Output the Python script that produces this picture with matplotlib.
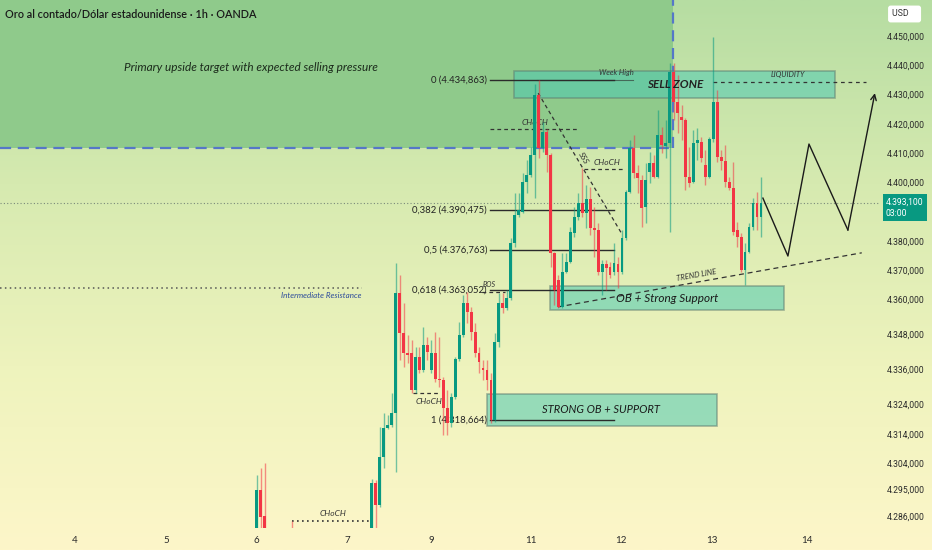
import numpy as np
import matplotlib
matplotlib.use("Agg")
import matplotlib.pyplot as plt
from matplotlib.patches import Rectangle
from matplotlib.colors import LinearSegmentedColormap
import matplotlib.transforms as mtransforms

plt.rcParams['font.family'] = ['Lato', 'DejaVu Sans']
NARROW = ['Roboto', 'Lato', 'DejaVu Sans']

# hourly candles, XAU/USD (bar index, open, high, low, close)
bar_idx = [0, 1, 2, 9] + list(range(29, 128))
opens = [4278, 4294.8, 4286.0, 4280,
         4278, 4297.1, 4289.6, 4306.2, 4315.9, 4317.0, 4321.0, 4362.0, 4348.4, 4341.7,
         4341.5, 4329.0, 4340.4, 4335.8, 4344.4, 4335.8, 4341.7, 4332.9, 4332.4, 4322.7,
         4317.6, 4326.5, 4339.5, 4347.8, 4358.6, 4355.7, 4348.9, 4341.5, 4336.4, 4335.8,
         4332.4, 4318.7, 4345.5, 4358.6, 4356.9, 4360.3, 4379.1, 4388.8, 4390.0, 4400.2,
         4402.5, 4409.3, 4429.9, 4411.6, 4417.3, 4409.3, 4375.9, 4366.6, 4357.5, 4369.4,
         4372.8, 4382.6, 4388.2, 4392.8, 4389.6, 4394.2, 4384.3, 4383.7, 4369.4, 4372.1,
         4370.9, 4369.4, 4372.1, 4369.4, 4380.8, 4396.8, 4411.6, 4403.1, 4400.8, 4391.7,
         4403.6, 4406.5, 4401.9, 4416.2, 4412.4, 4413.3, 4437.8, 4427.6, 4422.4, 4421.3,
         4401.9, 4400.2, 4413.3, 4413.9, 4405.9, 4401.9, 4414.7, 4427.6, 4408.8, 4407.4,
         4400.2, 4397.9, 4383.7, 4381.4, 4370.0, 4376.3, 4384.8, 4392.8, 4388.2]
highs = [4299.9, 4302.3, 4304.1, 4284.3,
         4298.4, 4298.2, 4316.4, 4321.0, 4320.4, 4327.8, 4372.3, 4368.3, 4358.7, 4347.8,
         4346.1, 4343.8, 4343.8, 4350.6, 4347.2, 4346.1, 4348.9, 4347.2, 4333.5, 4329.0,
         4327.8, 4340.4, 4352.3, 4361.5, 4362.6, 4357.5, 4351.8, 4343.8, 4339.2, 4339.2,
         4334.8, 4348.4, 4362.0, 4362.0, 4363.2, 4380.8, 4396.2, 4396.2, 4403.2, 4407.6,
         4412.2, 4433.5, 4434.86, 4420.7, 4418.4, 4409.9, 4376.3, 4368.3, 4375.7, 4375.7,
         4384.8, 4391.7, 4396.2, 4404.8, 4399.1, 4398.5, 4391.7, 4386.0, 4373.4, 4373.4,
         4372.8, 4379.1, 4374.6, 4383.7, 4397.4, 4414.5, 4416.2, 4405.9, 4402.5, 4406.5,
         4410.5, 4409.3, 4424.7, 4419.0, 4421.3, 4440.7, 4440.7, 4436.7, 4426.4, 4421.9,
         4412.2, 4417.9, 4418.5, 4415.6, 4411.1, 4415.6, 4449.8, 4431.6, 4411.1, 4412.8,
         4401.9, 4407.0, 4386.5, 4382.6, 4379.1, 4386.0, 4394.5, 4396.8, 4401.9]
lows = [4274, 4276, 4272, 4272,
        4274, 4278, 4289.0, 4302.3, 4315.5, 4316.5, 4301.0, 4339.2, 4336.9, 4338.1,
        4327.8, 4327.8, 4334.7, 4335.2, 4339.2, 4334.7, 4331.8, 4330.1, 4313.6, 4313.6,
        4316.4, 4326.0, 4339.0, 4347.0, 4351.8, 4346.1, 4340.4, 4334.7, 4332.4, 4329.0,
        4317.6, 4318.1, 4343.8, 4355.3, 4356.3, 4359.7, 4378.0, 4388.2, 4389.5, 4396.3,
        4401.9, 4394.5, 4408.3, 4410.5, 4403.6, 4371.1, 4358.0, 4356.9, 4356.9, 4368.9,
        4372.3, 4381.4, 4387.1, 4388.2, 4384.3, 4382.0, 4374.6, 4368.3, 4361.5, 4363.2,
        4367.2, 4368.3, 4363.9, 4368.8, 4380.3, 4396.2, 4401.4, 4396.2, 4384.8, 4386.0,
        4399.7, 4401.4, 4401.4, 4409.9, 4408.2, 4383.1, 4421.3, 4416.8, 4414.5, 4397.4,
        4398.5, 4399.7, 4407.6, 4407.0, 4399.1, 4401.4, 4413.9, 4407.0, 4404.2, 4398.5,
        4397.4, 4382.0, 4378.0, 4369.4, 4364.9, 4375.7, 4383.7, 4383.7, 4381.4]
closes = [4294.8, 4285.5, 4276, 4276,
          4297.1, 4289.6, 4306.2, 4315.9, 4317.0, 4321.0, 4362.0, 4348.4, 4341.5, 4340.9,
          4329.0, 4340.4, 4335.8, 4344.4, 4342.1, 4341.7, 4332.9, 4332.4, 4322.7, 4317.6,
          4326.5, 4339.5, 4347.8, 4358.6, 4355.7, 4348.9, 4341.5, 4338.6, 4335.8, 4332.4,
          4318.7, 4345.5, 4358.6, 4356.9, 4360.3, 4379.1, 4388.8, 4390.6, 4400.2, 4402.5,
          4409.3, 4429.9, 4411.6, 4417.3, 4409.3, 4375.9, 4363.2, 4357.5, 4369.4, 4372.8,
          4383.1, 4388.2, 4392.8, 4389.6, 4394.2, 4384.3, 4383.7, 4369.4, 4372.1, 4370.6,
          4368.3, 4372.5, 4369.4, 4380.8, 4396.8, 4411.6, 4403.1, 4401.5, 4391.1, 4400.8,
          4406.5, 4401.9, 4416.2, 4412.8, 4413.3, 4437.8, 4427.6, 4423.6, 4421.3, 4401.9,
          4399.7, 4413.3, 4414.5, 4408.2, 4401.9, 4414.7, 4427.6, 4408.8, 4407.4, 4400.2,
          4397.9, 4383.1, 4381.4, 4370.0, 4376.3, 4384.8, 4392.8, 4388.2, 4393.1]

# axis ticks
day_labels = ["4", "5", "6", "7", "9", "11", "12", "13", "14"]
day_pos = [-45.9, -22.9, 0, 22.9, 43.9, 69.0, 91.8, 114.7, 138.6]
price_ticks = [4450, 4440, 4430, 4420, 4410, 4400, 4380, 4370, 4360,
               4348, 4336, 4324, 4314, 4304, 4295, 4286]

# fibonacci levels
fib_names = ["0", "0,382", "0,5", "0,618", "1"]
fib_levels = [4434.863, 4390.475, 4376.763, 4363.052, 4318.664]

# projected path
path_x = [127.5, 133.8, 139.1, 148.9, 155.7]
path_y = [4394.6, 4374.8, 4413.1, 4383.7, 4430.5]

last_price = 4393.1

GREEN = '#089981'
RED = '#f23645'


def fmt_price(v):
    whole = int(v)
    frac = int(round((v - whole) * 1000))
    return f"{whole // 1000}.{whole % 1000:03d},{frac:03d}"


fig = plt.figure(figsize=(9.32, 5.5), dpi=100)

# background gradient
bg = fig.add_axes([0, 0, 1, 1], zorder=-10)
cmap = LinearSegmentedColormap.from_list('bg', ['#b6dda2', '#d6eab0', '#eef3bd', '#fdf6c9'])
grad = np.linspace(0, 1, 256).reshape(-1, 1)
bg.imshow(grad, aspect='auto', cmap=cmap, extent=[0, 1, 0, 1])
bg.axis('off')

ax = fig.add_axes([0, 0.04, 880 / 932, 0.96])
ax.set_facecolor('none')
xmin, xmax = -64.66, 156.99
ymin, ymax = 4281.8, 4462.35
ax.set_xlim(xmin, xmax)
ax.set_ylim(ymin, ymax)
for s in ax.spines.values():
    s.set_visible(False)

# upside target zone
ax.add_patch(Rectangle((xmin, 4411.8), 104.8 - xmin, ymax - 4411.8,
                       facecolor='#8fca8b', edgecolor='none', zorder=0))
ax.plot([xmin, 104.8], [4411.8, 4411.8], ls=(0, (5, 3)), color='#5577c8', lw=1.6, zorder=1)
ax.plot([104.8, 104.8], [4411.8, ymax], ls=(0, (5, 3)), color='#5577c8', lw=1.6, zorder=1)
ax.text(-1.4, 4439.1, "Primary upside target with expected selling pressure",
        fontsize=8.5, style='italic', ha='center', va='center', color='#1b2a1b')

# boxes
box_kw = dict(facecolor='#4cc9b3', alpha=0.55, edgecolor='#5f7d70', lw=1.2, zorder=2)
ax.add_patch(Rectangle((64.9, 4428.7), 145.7 - 64.9, 4438.2 - 4428.7, **box_kw))
ax.add_patch(Rectangle((73.9, 4356.3), 132.8 - 73.9, 4364.5 - 4356.3, **box_kw))
ax.add_patch(Rectangle((57.9, 4316.7), 115.9 - 57.9, 4327.6 - 4316.7, **box_kw))
ax.text(105.4, 4433.5, "SELL ZONE", fontsize=8.5, style='italic', fontweight='bold',
        ha='center', va='center', color='#222222', zorder=6)
ax.text(103.3, 4360.4, "OB + Strong Support", fontsize=8.5, style='italic',
        ha='center', va='center', color='#1a1a1a', zorder=6)
ax.text(86.7, 4322.2, "STRONG OB + SUPPORT", fontsize=8, style='italic',
        ha='center', va='center', color='#1a1a1a', zorder=6)

# fib lines
for name, lvl in zip(fib_names, fib_levels):
    ax.plot([58.8, 90.0], [lvl, lvl], color='#2b2b2b', lw=1, zorder=3)
    ax.text(58.0, lvl, f"{name} ({fmt_price(lvl)})",
            fontsize=6.8, ha='right', va='center', color='#222222')
ax.plot([70.6, 94.8], [4435.0, 4435.0], color='#2b2b2b', lw=0.8, alpha=0.6, zorder=3)
ax.text(90.5, 4437.6, "Week High", fontsize=5.5, style='italic', ha='center',
        va='center', color='#333333', zorder=6)

# liquidity
ax.plot([114.9, 153.5], [4434.2, 4434.2], ls=(0, (3, 3)), color='#333333', lw=0.9, zorder=3)
ax.text(133.8, 4436.8, "LIQUIDITY", fontsize=5.5, style='italic', ha='center',
        va='center', color='#333333')

# structure marks
dash = dict(ls=(0, (3, 2.5)), color='#333333', lw=0.9, zorder=3)
ax.plot([58.8, 80.9], [4418.1, 4418.1], **dash)
ax.text(70.1, 4420.6, "CHoCH", fontsize=6, style='italic', ha='center', va='center', color='#333333')
ax.plot([82.4, 92.8], [4404.4, 4404.4], **dash)
ax.text(88.2, 4406.9, "CHoCH", fontsize=6, style='italic', ha='center', va='center', color='#333333')
ax.plot([39.4, 46.2], [4327.8, 4327.8], **dash)
ax.text(43.4, 4325.0, "CHoCH", fontsize=6, style='italic', ha='center', va='center', color='#333333')
ax.plot([8.9, 28.5], [4284.3, 4284.3], ls=(0, (1, 2)), color='#333333', lw=1.2, zorder=3)
ax.text(19.2, 4286.6, "CHoCH", fontsize=6, style='italic', ha='center', va='center', color='#333333')
ax.plot([56.7, 62.5], [4362.6, 4362.6], **dash)
ax.text(58.6, 4365.2, "BOS", fontsize=5, style='italic', ha='center', va='center', color='#333333')
ax.plot([70.9, 92.0], [4430.5, 4382.3], **dash)
ax.text(82.2, 4408.3, "SSS", fontsize=6, style='italic', ha='center', va='center',
        rotation=-59, color='#333333')

# intermediate resistance
ax.plot([xmin, 26.5], [4364.0, 4364.0], ls=(0, (1, 2.2)), color='#555555', lw=1.1, zorder=3)
ax.text(26.3, 4361.4, "Intermediate Resistance", fontsize=5.8, style='italic',
        ha='right', va='center', color='#2b4a9a')

# trend line
ax.plot([75.9, 152.4], [4357.4, 4375.9], ls=(0, (4, 3)), color='#333333', lw=0.9, zorder=3)
ax.text(110.7, 4368.4, "TREND LINE", fontsize=5.5, style='italic', ha='center',
        va='center', rotation=10, color='#333333')

# last price line
ax.axhline(last_price, color='#7a8a7a', lw=0.8, ls=(0, (1, 2)), zorder=1)

# candles
o = np.array(opens)
c = np.array(closes)
h = np.array(highs)
lo = np.array(lows)
colors = [GREEN if cc >= oo else RED for oo, cc in zip(o, c)]
ax.vlines(bar_idx, lo, h, colors=colors, lw=1, alpha=0.55, zorder=4)
ax.bar(bar_idx, np.maximum(np.abs(c - o), 0.35), bottom=np.minimum(o, c),
       width=0.72, color=colors, zorder=5)

# projection path
ax.plot(path_x[:-1], path_y[:-1], color='#1a1a1a', lw=1, zorder=6)
ax.annotate('', xy=(path_x[-1], path_y[-1]), xytext=(path_x[-2], path_y[-2]),
            arrowprops=dict(arrowstyle='->', color='#1a1a1a', lw=1,
                            shrinkA=0, shrinkB=0, mutation_scale=10),
            zorder=6, annotation_clip=False)

# ticks
ax.set_xticks(day_pos)
ax.set_xticklabels(day_labels)
ax.yaxis.tick_right()
ax.set_yticks(price_ticks)
ax.set_yticklabels([fmt_price(v) for v in price_ticks], family=NARROW, fontsize=6.2)
ax.tick_params(axis='both', length=0, colors='#2a2a2a')
ax.tick_params(axis='x', labelsize=7, pad=6)
ax.tick_params(axis='y', pad=5)

# price label
trans = mtransforms.blended_transform_factory(ax.transAxes, ax.transData)
ax.text(1.0068, 4391.4, f"{fmt_price(last_price)}\n03:00", transform=trans, fontsize=6.2,
        family=NARROW, color='white', ha='left', va='center', linespacing=1.35,
        bbox=dict(boxstyle='square,pad=0.4', facecolor=GREEN, edgecolor='none'),
        zorder=10, clip_on=False)

fig.text(5 / 932, 1 - 14 / 550, "Oro al contado/Dólar estadounidense · 1h · OANDA",
         fontsize=7.8, fontweight='semibold', ha='left', va='center', color='#1a1a1a')
fig.text(892 / 932, 1 - 14 / 550, "USD    ", fontsize=6.3, ha='left', va='center',
         family=NARROW, color='#333333',
         bbox=dict(boxstyle='round,pad=0.45,rounding_size=0.3', facecolor='white',
                   edgecolor='none'))

fig.savefig('out.png', dpi=100)
